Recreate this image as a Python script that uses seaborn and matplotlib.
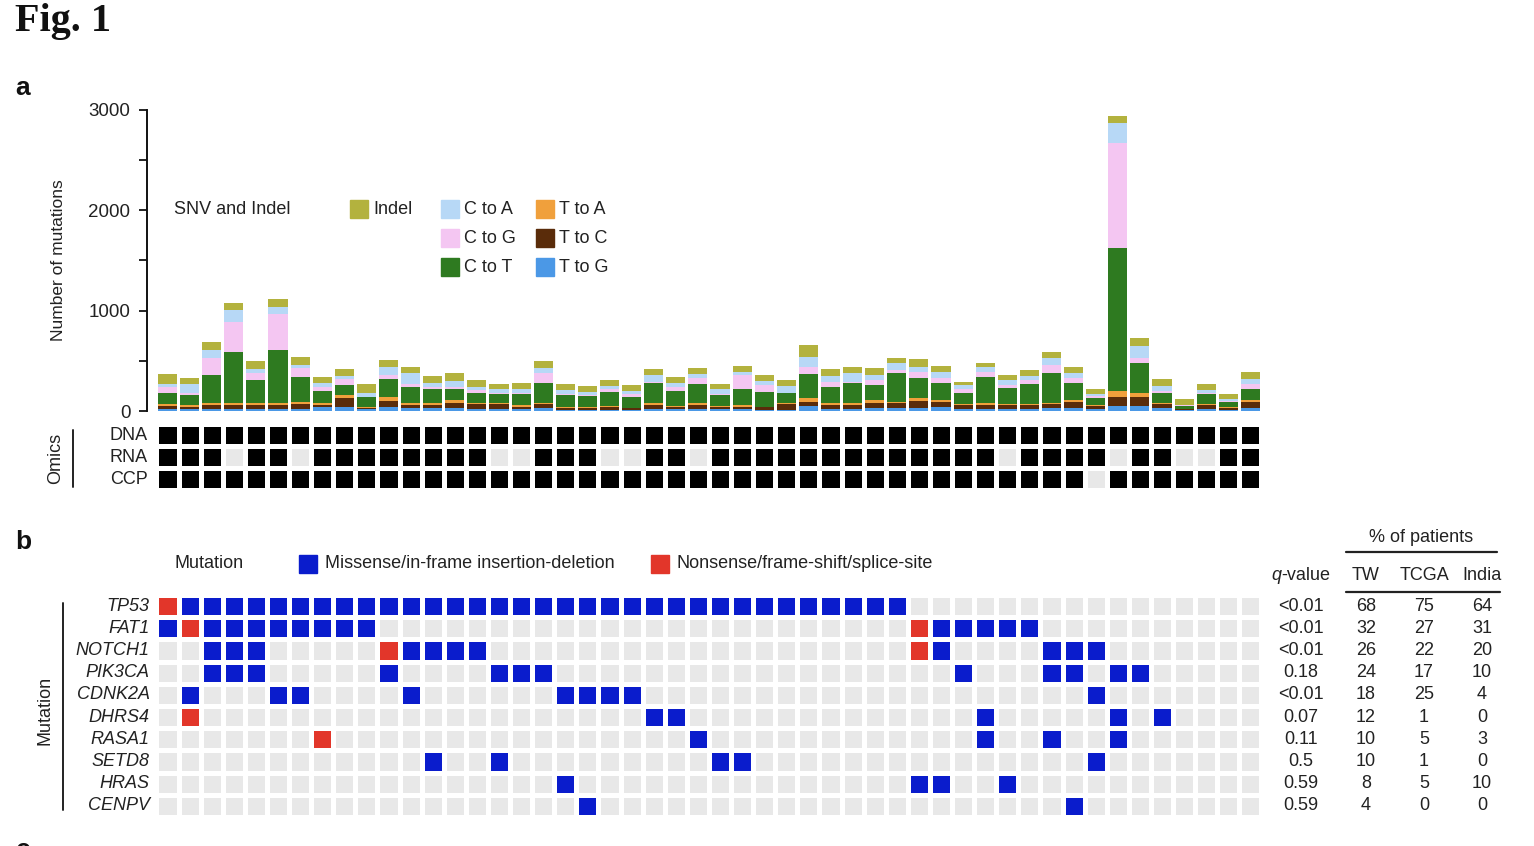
import numpy as np
import pandas as pd
import seaborn as sns
import matplotlib.pyplot as plt
from matplotlib.colors import ListedColormap
from matplotlib.patches import Rectangle
from matplotlib.lines import Line2D

# ---- data -------------------------------------------------------------
n_samples = 50
samples = list(range(n_samples))

indel  = [100, 60, 76, 66, 86, 73, 83, 60, 66, 83, 66, 60, 73, 73, 66, 53, 60, 76, 60, 56,
          60, 56, 66, 66, 60, 50, 56, 56, 66, 123, 66, 66, 66, 50, 73, 56, 33, 40, 50, 60,
          66, 60, 50, 73, 77, 66, 60, 60, 50, 76]
c_to_a = [30, 90, 83, 116, 33, 73, 33, 40, 30, 40, 83, 106, 33, 60, 33, 33, 40, 50, 40, 33,
          30, 27, 66, 40, 40, 50, 33, 40, 66, 100, 60, 86, 50, 66, 50, 60, 43, 53, 46, 40,
          66, 50, 20, 193, 123, 46, 5, 27, 20, 50]
c_to_g = [65, 25, 166, 299, 73, 359, 90, 33, 60, 5, 43, 27, 27, 27, 33, 13, 10, 93, 5, 5,
          26, 33, 5, 36, 56, 5, 143, 70, 5, 66, 46, 5, 50, 33, 66, 50, 33, 53, 37, 40,
          83, 43, 13, 1053, 50, 27, 5, 13, 13, 50]
c_to_t = [106, 100, 282, 515, 232, 531, 242, 120, 100, 93, 180, 160, 133, 106, 93, 86, 110, 200, 123, 116,
          143, 106, 206, 150, 193, 110, 156, 146, 93, 242, 166, 206, 150, 282, 200, 173, 113, 259, 156, 199,
          292, 173, 73, 1419, 299, 93, 30, 100, 56, 106]
t_to_a = [20, 15, 17, 17, 17, 17, 23, 23, 33, 10, 33, 23, 23, 27, 17, 17, 17, 13, 10, 10,
          13, 7, 17, 13, 17, 7, 17, 7, 13, 33, 17, 17, 27, 17, 23, 17, 10, 17, 13, 13,
          13, 17, 10, 60, 33, 13, 5, 5, 5, 17]
t_to_c = [33, 25, 43, 37, 43, 43, 46, 23, 90, 17, 66, 33, 33, 56, 43, 43, 27, 43, 17, 17,
          27, 17, 43, 20, 43, 27, 27, 27, 60, 43, 43, 43, 56, 50, 76, 56, 43, 43, 40, 40,
          43, 66, 33, 93, 93, 43, 10, 43, 20, 66]
t_to_g = [17, 15, 17, 23, 17, 17, 23, 37, 37, 17, 37, 27, 27, 27, 23, 23, 17, 27, 10, 10,
          10, 10, 17, 17, 17, 17, 17, 10, 10, 50, 17, 17, 27, 27, 27, 37, 17, 17, 17, 17,
          27, 27, 17, 50, 50, 27, 5, 17, 10, 27]

types = ["Indel", "C to A", "C to G", "C to T", "T to A", "T to C", "T to G"]
colors = ["#b3b23e", "#b7d8f6", "#f4c6f2", "#2e7a20", "#f0a03c", "#5a2c0a", "#4b98e6"]

omics_rows = ["DNA", "RNA", "CCP"]
rna_missing = [3, 6, 15, 16, 20, 21, 24, 38, 43, 46, 47]
ccp_missing = [42]

genes = ["TP53", "FAT1", "NOTCH1", "PIK3CA", "CDNK2A", "DHRS4", "RASA1", "SETD8", "HRAS", "CENPV"]
missense_cols = [
    list(range(1, 34)),
    [0] + list(range(2, 10)) + list(range(35, 40)),
    [2, 3, 4, 11, 12, 13, 14, 35, 40, 41, 42],
    [2, 3, 4, 10, 15, 16, 17, 36, 40, 41, 43, 44],
    [1, 5, 6, 11, 18, 19, 20, 21, 42],
    [22, 23, 37, 43, 45],
    [24, 37, 40, 43],
    [12, 15, 25, 26, 42],
    [18, 34, 35, 38],
    [19, 41],
]
nonsense_cols = [[0], [1, 34], [10, 34], [], [], [1], [7], [], [], []]

q_values = ["<0.01", "<0.01", "<0.01", "0.18", "<0.01", "0.07", "0.11", "0.5", "0.59", "0.59"]
pct_tw = [68, 32, 26, 24, 18, 12, 10, 10, 8, 4]
pct_tcga = [75, 27, 22, 17, 25, 1, 5, 1, 5, 0]
pct_india = [64, 31, 20, 10, 4, 0, 3, 0, 10, 0]

# ---- style ------------------------------------------------------------
sns.set_theme(style="white")
plt.rcParams['font.family'] = ['Liberation Sans', 'DejaVu Sans']
txt = "#222222"
fs = 13

W, H = 1534, 846
fig = plt.figure(figsize=(W / 100, H / 100), dpi=100)

def fx(px):
    return px / W

def fy(py):
    return 1 - py / H

pitch = 22.1
grid_left = 156.45
grid_right = grid_left + n_samples * pitch

# ---- a : stacked bars ---------------------------------------------------
ax_bar = fig.add_axes([fx(147), fy(411), fx(grid_right) - fx(147), (411 - 110) / H])

vals = {"Indel": indel, "C to A": c_to_a, "C to G": c_to_g, "C to T": c_to_t,
        "T to A": t_to_a, "T to C": t_to_c, "T to G": t_to_g}
df_bar = pd.DataFrame([(s, t, vals[t][s]) for t in types for s in samples],
                      columns=["sample", "type", "count"])

sns.histplot(data=df_bar, x="sample", weights="count", hue="type", hue_order=types,
             multiple="stack", discrete=True, shrink=0.86, palette=colors,
             alpha=1, linewidth=0, legend=False, ax=ax_bar)

ax_bar.set_xlim(-(grid_left + 1.55 + 9.5 - 147) / pitch, n_samples - 0.5)
ax_bar.set_ylim(0, 3000)
ax_bar.set_yticks([0, 1000, 2000, 3000])
ax_bar.set_yticks([500, 1500, 2500], minor=True)
ax_bar.set_xticks([])
ax_bar.set_xlabel("")
ax_bar.set_ylabel("Number of mutations", fontsize=12.5, color=txt, labelpad=16)
for sp in ["top", "right", "bottom"]:
    ax_bar.spines[sp].set_visible(False)
ax_bar.spines["left"].set_linewidth(1.4)
ax_bar.spines["left"].set_color("#111111")
ax_bar.tick_params(axis="y", which="both", direction="out", left=True, length=6,
                   width=1.3, color="#111111", labelsize=13.5, labelcolor=txt, pad=6)
ax_bar.patch.set_alpha(0)

# legend of panel a
fig.text(fx(174), fy(209), "SNV and Indel", fontsize=fs, color=txt, va="center")
leg_pos = [(350, 209), (441, 209), (441, 238), (441, 267), (536, 209), (536, 238), (536, 267)]
for (lx, ly), lab, col in zip(leg_pos, types, colors):
    fig.patches.append(Rectangle((fx(lx), fy(ly + 9)), 18 / W, 18 / H, color=col,
                                 transform=fig.transFigure, figure=fig))
    fig.text(fx(lx + 23), fy(ly), lab, fontsize=fs, color=txt, va="center")

# ---- omics grid ---------------------------------------------------------
omics = np.ones((3, n_samples))
omics[1, rna_missing] = 0
omics[2, ccp_missing] = 0
ax_om = fig.add_axes([fx(grid_left), fy(490), (grid_right - grid_left) / W, 66 / H])
sns.heatmap(omics, cmap=ListedColormap(["#e8e8e8", "#000000"]), vmin=-0.5, vmax=1.5,
            cbar=False, linewidths=2.2, linecolor="white", xticklabels=False,
            yticklabels=omics_rows, ax=ax_om)
ax_om.tick_params(axis="y", length=0, pad=6, labelsize=fs, labelcolor=txt)
ax_om.set_yticklabels(omics_rows, rotation=0)

fig.text(fx(56), fy(458), "Omics", rotation=90, fontsize=fs, color=txt, ha="center", va="center")
fig.lines.append(Line2D([fx(73), fx(73)], [fy(430), fy(487)], color="#222222", lw=1.4,
                        transform=fig.transFigure, figure=fig))

# ---- b : mutation grid --------------------------------------------------
mut = np.zeros((len(genes), n_samples))
for i, cols in enumerate(missense_cols):
    mut[i, cols] = 1
for i, cols in enumerate(nonsense_cols):
    mut[i, cols] = 2

ax_mut = fig.add_axes([fx(grid_left), fy(817), (grid_right - grid_left) / W, 222 / H])
sns.heatmap(mut, cmap=ListedColormap(["#e8e8e8", "#0a1ccc", "#e2362a"]), vmin=-0.5, vmax=2.5,
            cbar=False, linewidths=2.2, linecolor="white", xticklabels=False,
            yticklabels=genes, ax=ax_mut)
ax_mut.tick_params(axis="y", length=0, pad=5, labelsize=fs, labelcolor=txt)
ax_mut.set_yticklabels(genes, rotation=0, fontstyle="italic")

fig.text(fx(45), fy(710), "Mutation", rotation=90, fontsize=fs, color=txt, ha="center", va="center")
fig.lines.append(Line2D([fx(63), fx(63)], [fy(603), fy(810)], color="#222222", lw=1.4,
                        transform=fig.transFigure, figure=fig))

# legend of panel b
fig.text(fx(174), fy(564), "Mutation", fontsize=fs, color=txt, va="center")
for lx, lab, col in [(299, "Missense/in-frame insertion-deletion", "#0a1ccc"),
                     (651, "Nonsense/frame-shift/splice-site", "#e2362a")]:
    fig.patches.append(Rectangle((fx(lx), fy(573)), 18 / W, 18 / H, color=col,
                                 transform=fig.transFigure, figure=fig))
    fig.text(fx(lx + 26), fy(564), lab, fontsize=fs, color=txt, va="center")

# ---- table on the right -------------------------------------------------
col_x = [1301, 1366, 1424, 1482]
fig.text(fx(1421), fy(537), "% of patients", fontsize=fs, color=txt, ha="center", va="center")
fig.lines.append(Line2D([fx(1346), fx(1497)], [fy(552), fy(552)], color="#222222", lw=1.6,
                        transform=fig.transFigure, figure=fig))
fig.text(fx(1271), fy(575), "q", fontsize=fs, color=txt, va="center", fontstyle="italic")
fig.text(fx(1281), fy(575), "-value", fontsize=fs, color=txt, va="center")
for x, lab in zip(col_x[1:], ["TW", "TCGA", "India"]):
    fig.text(fx(x), fy(575), lab, fontsize=fs, color=txt, ha="center", va="center")
fig.lines.append(Line2D([fx(1346), fx(1500)], [fy(592), fy(592)], color="#222222", lw=1.6,
                        transform=fig.transFigure, figure=fig))

for i in range(len(genes)):
    y = 606 + i * 22.2
    for x, v in zip(col_x, [q_values[i], pct_tw[i], pct_tcga[i], pct_india[i]]):
        fig.text(fx(x), fy(y), str(v), fontsize=fs, color=txt, ha="center", va="center")

# ---- panel titles -------------------------------------------------------
fig.text(fx(15), fy(22), "Fig. 1", fontsize=29, fontweight="bold", color="#111111",
         va="center", family=["Liberation Serif", "DejaVu Serif"])
fig.text(fx(15), fy(88), "a", fontsize=19, fontweight="bold", color="#111111", va="center")
fig.text(fx(15), fy(542), "b", fontsize=19, fontweight="bold", color="#111111", va="center")
# top of panel c, cut off by the lower edge
fig.text(fx(16), fy(838), "c", fontsize=19, fontweight="bold", color="#111111", va="top")

fig.savefig("out.png", dpi=100)
